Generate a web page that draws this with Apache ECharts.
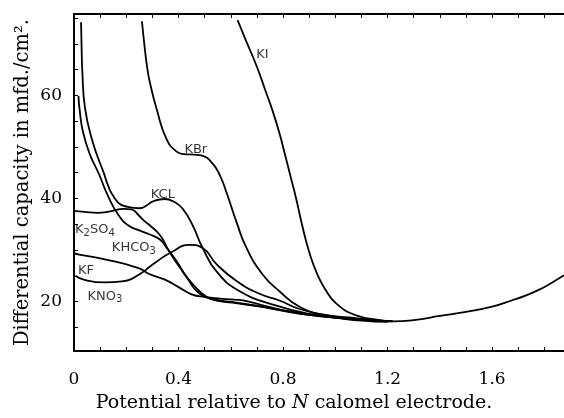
<!DOCTYPE html>
<html>
<head>
<meta charset="utf-8">
<title>Differential capacity</title>
<script src="https://cdn.jsdelivr.net/npm/echarts@6/dist/echarts.min.js"></script>
<style>
  html, body { margin: 0; padding: 0; background: #fff; }
  #chart { width: 564px; height: 418px; }
</style>
</head>
<body>
<div id="chart"></div>
<script>
// axis ticks and labels
const xTicks = [0.1, 0.2, 0.3, 0.4, 0.5, 0.6, 0.7, 0.8, 0.9, 1.0, 1.1, 1.2, 1.3, 1.4, 1.5, 1.6, 1.7, 1.8];
const xLabels = [0, 0.4, 0.8, 1.2, 1.6];
const yTicks = [15, 20, 25, 30, 35, 40, 45, 50, 55, 60, 65, 70, 75];
const yLabels = [20, 40, 60];

// curves: [potential, capacity]
const kI = [[0.626, 74.6], [0.66, 70.4], [0.698, 65.8], [0.73, 61.3], [0.76, 57.0], [0.787, 52.5],
  [0.81, 48.0], [0.83, 44.0], [0.85, 40.0], [0.874, 34.6], [0.9, 29.6], [0.93, 25.4], [0.96, 22.5],
  [1.004, 19.6], [1.08, 17.3], [1.168, 16.4], [1.22, 16.15]];
const tail = [[1.3, 16.4], [1.4, 17.2], [1.5, 18.0], [1.6, 19.0], [1.68, 20.3], [1.73, 21.2],
  [1.78, 22.3], [1.83, 23.7], [1.875, 25.1]];
const kBr = [[0.26, 74.4], [0.27, 69.5], [0.279, 65.8], [0.29, 62.6], [0.317, 57.2], [0.355, 51.4], [0.393, 49.1],
  [0.42, 48.6], [0.46, 48.5], [0.49, 48.3], [0.53, 46.8], [0.56, 44.3], [0.584, 41.1], [0.622, 35.4],
  [0.66, 30.4], [0.721, 25.3], [0.786, 22.0], [0.863, 19.0], [0.977, 17.1], [1.103, 16.3], [1.2, 16.05]];
const kCl = [[0.027, 74.2], [0.029, 69.5], [0.032, 64.5], [0.042, 57.6], [0.069, 51.4], [0.11, 45.5], [0.156, 40.0],
  [0.21, 38.3], [0.248, 38.1], [0.309, 39.6], [0.347, 39.9], [0.385, 39.3], [0.416, 38.0], [0.454, 34.8],
  [0.492, 30.4], [0.546, 25.8], [0.634, 22.0], [0.775, 19.2], [0.9, 17.6], [1.0, 17.0], [1.1, 16.5], [1.2, 16.2]];
const kHCO3 = [[0.017, 59.9], [0.022, 57.0], [0.034, 53.0], [0.061, 48.5], [0.095, 44.8], [0.13, 40.5], [0.17, 36.8],
  [0.21, 34.7], [0.25, 33.8], [0.29, 33.0], [0.33, 32.0], [0.355, 30.4], [0.393, 27.8], [0.431, 24.7],
  [0.481, 21.5], [0.546, 20.3], [0.62, 19.8], [0.7, 19.2], [0.8, 18.2], [0.9, 17.4], [1.0, 16.9],
  [1.1, 16.5], [1.2, 16.2]];
const k2SO4 = [[0, 37.6], [0.04, 37.4], [0.09, 37.2], [0.14, 37.5], [0.19, 38.0], [0.22, 37.9],
  [0.25, 36.6], [0.27, 35.6], [0.29, 34.8], [0.33, 32.8], [0.366, 29.6], [0.405, 26.6], [0.454, 23.4],
  [0.508, 20.9], [0.557, 20.1], [0.62, 19.7], [0.7, 19.1], [0.8, 18.3], [0.9, 17.5], [1.0, 16.9],
  [1.1, 16.5], [1.2, 16.2]];
const kF = [[0, 29.4], [0.02, 29.1], [0.118, 28.2], [0.247, 26.5], [0.29, 25.3], [0.346, 24.3],
  [0.4, 22.8], [0.45, 21.4], [0.5, 20.9], [0.6, 20.4], [0.66, 20.1], [0.75, 18.9], [0.85, 17.8],
  [0.95, 17.1], [1.05, 16.7], [1.15, 16.3], [1.22, 16.15]];
const kNO3 = [[0.005, 25.0], [0.04, 24.2], [0.118, 23.7], [0.183, 23.9], [0.248, 25.2], [0.309, 27.5],
  [0.374, 29.6], [0.44, 31.0], [0.492, 30.4], [0.546, 27.2], [0.622, 24.0], [0.71, 21.5], [0.786, 20.2],
  [0.86, 18.6], [0.95, 17.5], [1.05, 16.9], [1.15, 16.4], [1.22, 16.2]];

// curve names placed next to their curves: [x, y, text]
const curveLabels = [
  [0.721, 67.9, 'KI'],
  [0.466, 49.4, 'KBr'],
  [0.34, 40.7, 'KCL'],
  [0.08, 33.9, 'K{s|2}SO{s|4}'],
  [0.229, 30.5, 'KHCO{s|3}'],
  [0.046, 26.0, 'KF'],
  [0.118, 21.0, 'KNO{s|3}']
];

const curves = [kI.concat(tail), kBr, kCl, kHCO3, k2SO4, kF, kNO3];

const chart = echarts.init(document.getElementById('chart'));

const serif = 'DejaVu Serif';
const xBase = {
  type: 'value',
  min: 0,
  max: 1.875,
  axisLine: { show: true, lineStyle: { color: '#000', width: 2 } },
  axisTick: { inside: true, length: 4, customValues: xTicks, lineStyle: { color: '#000', width: 1 } },
  splitLine: { show: false }
};

const option = {
  animation: false,
  backgroundColor: '#fff',
  grid: { left: 74, right: 0, top: 14, bottom: 60 },
  xAxis: [
    Object.assign({}, xBase, {
      position: 'bottom',
      name: 'Potential relative to {i|N} calomel electrode.',
      nameLocation: 'middle',
      nameGap: 43,
      nameMoveOverlap: false,
      nameTextStyle: {
        fontFamily: serif, fontSize: 19, color: '#000', padding: [0, 50, 0, 0],
        rich: { i: { fontFamily: serif, fontSize: 19, fontStyle: 'italic', color: '#000' } }
      },
      axisLabel: {
        customValues: xLabels,
        margin: 20,
        fontFamily: serif, fontSize: 17, color: '#000',
        formatter: v => (v === 0 ? '0' : v.toFixed(1))
      }
    }),
    Object.assign({}, xBase, {
      position: 'top',
      axisLabel: { show: false }
    })
  ],
  yAxis: {
    type: 'value',
    min: 10.4,
    max: 75.8,
    name: 'Differential capacity in mfd./cm².',
    nameLocation: 'middle',
    nameGap: 41,
    nameMoveOverlap: false,
    nameTextStyle: { fontFamily: serif, fontSize: 19.5, color: '#000' },
    axisLine: { show: true, lineStyle: { color: '#000', width: 2 } },
    axisTick: { inside: true, length: 4, customValues: yTicks, lineStyle: { color: '#000', width: 1 } },
    axisLabel: {
      customValues: yLabels,
      margin: 12,
      fontFamily: serif, fontSize: 17, color: '#000'
    },
    splitLine: { show: false }
  },
  series: curves.map(d => ({
    type: 'line',
    data: d,
    showSymbol: false,
    smooth: 0.5,
    silent: true,
    lineStyle: { color: '#000', width: 1.8 }
  })).concat([{
    type: 'scatter',
    data: curveLabels,
    symbolSize: 0,
    silent: true,
    label: {
      show: true,
      position: 'inside',
      formatter: p => p.data[2],
      fontFamily: 'DejaVu Sans',
      fontSize: 13,
      color: '#000',
      rich: {
        s: { fontFamily: 'DejaVu Sans', fontSize: 10, color: '#000', padding: [7, 0, 0, 0] }
      }
    }
  }])
};

chart.setOption(option);
</script>
</body>
</html>
